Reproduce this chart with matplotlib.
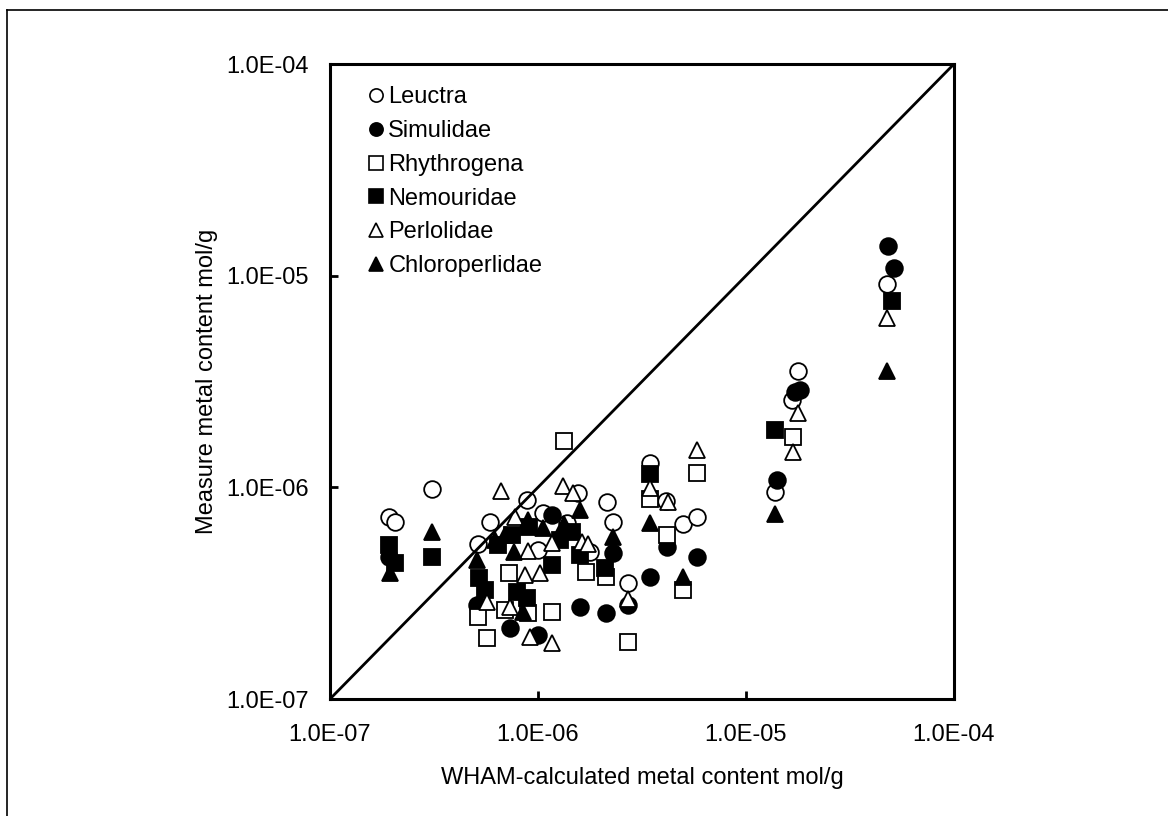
import matplotlib
matplotlib.use("Agg")
import matplotlib.pyplot as plt
from matplotlib.lines import Line2D
from matplotlib.ticker import FuncFormatter, FixedLocator, NullLocator

plt.rcParams['font.family'] = ['Liberation Sans', 'DejaVu Sans']

# ---- data (WHAM-calculated x, measured y), mol/g ----
leuctra_x = [1.92e-7, 2.05e-7, 3.09e-7, 5.15e-7, 5.88e-7, 8.85e-7, 1.06e-6, 1.56e-6, 1.38e-6,
             2.15e-6, 2.30e-6, 2.71e-6, 3.45e-6, 4.12e-6, 4.97e-6, 5.80e-6, 1.00e-6, 1.38e-5,
             1.66e-5, 1.78e-5, 4.76e-5, 1.78e-6]
leuctra_y = [7.24e-7, 6.86e-7, 9.80e-7, 5.40e-7, 6.86e-7, 8.70e-7, 7.56e-7, 9.40e-7, 6.78e-7,
             8.53e-7, 6.86e-7, 3.53e-7, 1.30e-6, 8.60e-7, 6.70e-7, 7.24e-7, 5.06e-7, 9.50e-7,
             2.58e-6, 3.54e-6, 9.10e-6, 4.94e-7]

simulidae_x = [4.82e-5, 5.15e-5, 1.72e-5, 1.82e-5, 1.41e-5, 5.80e-6, 4.17e-6, 3.45e-6, 2.71e-6,
               2.12e-6, 1.59e-6, 1.00e-6, 7.33e-7, 1.17e-6, 2.30e-6, 1.92e-7, 5.09e-7]
simulidae_y = [1.38e-5, 1.09e-5, 2.82e-6, 2.88e-6, 1.08e-6, 4.69e-7, 5.23e-7, 3.77e-7, 2.78e-7,
               2.55e-7, 2.72e-7, 2.00e-7, 2.16e-7, 7.40e-7, 4.90e-7, 4.69e-7, 2.78e-7]

rhythrogena_x = [1.33e-6, 5.80e-6, 3.45e-6, 4.17e-6, 4.97e-6, 2.71e-6, 2.12e-6, 1.70e-6, 1.17e-6,
                 8.95e-7, 7.26e-7, 5.15e-7, 5.69e-7, 1.68e-5, 6.93e-7]
rhythrogena_y = [1.66e-6, 1.17e-6, 8.80e-7, 5.96e-7, 3.27e-7, 1.86e-7, 3.77e-7, 3.98e-7, 2.58e-7,
                 2.55e-7, 3.94e-7, 2.44e-7, 1.94e-7, 1.73e-6, 2.63e-7]

nemouridae_x = [1.92e-7, 2.05e-7, 3.09e-7, 1.38e-5, 5.03e-5, 3.45e-6, 2.10e-6, 1.59e-6, 1.17e-6,
                9.06e-7, 1.46e-6, 5.20e-7, 5.56e-7, 7.93e-7, 8.85e-7, 6.43e-7, 7.50e-7, 1.28e-6]
nemouridae_y = [5.33e-7, 4.38e-7, 4.69e-7, 1.87e-6, 7.59e-6, 1.16e-6, 4.16e-7, 4.79e-7, 4.29e-7,
                6.49e-7, 6.15e-7, 3.73e-7, 3.27e-7, 3.20e-7, 3.00e-7, 5.33e-7, 5.96e-7, 5.63e-7]

perlolidae_x = [6.64e-7, 1.32e-6, 1.47e-6, 5.80e-6, 4.22e-6, 3.45e-6, 2.71e-6, 1.78e-5, 1.68e-5,
                4.76e-5, 1.17e-6, 9.16e-7, 5.69e-7, 7.33e-7, 7.75e-7, 1.17e-6, 8.95e-7, 1.02e-6,
                8.65e-7, 1.63e-6, 1.74e-6]
perlolidae_y = [9.60e-7, 1.01e-6, 9.40e-7, 1.50e-6, 8.53e-7, 9.90e-7, 2.96e-7, 2.24e-6, 1.47e-6,
                6.30e-6, 1.84e-7, 1.96e-7, 2.87e-7, 2.72e-7, 7.24e-7, 5.46e-7, 5.00e-7, 3.94e-7,
                3.85e-7, 5.52e-7, 5.40e-7]

chloroperlidae_x = [4.76e-5, 1.38e-5, 3.45e-6, 4.97e-6, 2.30e-6, 1.59e-6, 1.33e-6, 8.95e-7, 1.94e-7,
                    3.09e-7, 5.09e-7, 8.48e-7, 6.93e-7, 7.67e-7, 6.20e-7, 1.06e-6]
chloroperlidae_y = [3.54e-6, 7.48e-7, 6.78e-7, 3.77e-7, 5.82e-7, 7.82e-7, 6.70e-7, 7.00e-7, 3.94e-7,
                    6.15e-7, 4.54e-7, 2.58e-7, 5.96e-7, 4.94e-7, 5.63e-7, 6.42e-7]

series_names = ["Leuctra", "Simulidae", "Rhythrogena", "Nemouridae", "Perlolidae", "Chloroperlidae"]
tick_values = [1e-7, 1e-6, 1e-5, 1e-4]
x_label = "WHAM-calculated metal content mol/g"
y_label = "Measure metal content mol/g"

series = [
    (leuctra_x, leuctra_y, 'o', 'white'),
    (simulidae_x, simulidae_y, 'o', 'black'),
    (rhythrogena_x, rhythrogena_y, 's', 'white'),
    (nemouridae_x, nemouridae_y, 's', 'black'),
    (perlolidae_x, perlolidae_y, '^', 'white'),
    (chloroperlidae_x, chloroperlidae_y, '^', 'black'),
]

FS = 17
fig = plt.figure(figsize=(11.68, 8.16), dpi=100)
ax = fig.add_axes([330/1168, 1 - 699/816, 624/1168, 635/816])

for (xs, ys, m, fc), name in zip(series, series_names):
    ax.plot(xs, ys, linestyle='none', marker=m, markersize=12, markerfacecolor=fc,
            markeredgecolor='black', markeredgewidth=1.3, label=name, zorder=3)

ax.plot([tick_values[0], tick_values[-1]], [tick_values[0], tick_values[-1]],
        color='black', lw=2.0, zorder=4)

ax.set_xscale('log')
ax.set_yscale('log')
ax.set_xlim(tick_values[0], tick_values[-1])
ax.set_ylim(tick_values[0], tick_values[-1])
fmt = FuncFormatter(lambda v, p: f"{v:.1E}")
for axis in (ax.xaxis, ax.yaxis):
    axis.set_major_locator(FixedLocator(tick_values))
    axis.set_minor_locator(NullLocator())
    axis.set_major_formatter(fmt)
ax.tick_params(axis='both', which='major', direction='in', length=6, width=2,
               labelsize=FS, color='black')
ax.tick_params(axis='x', pad=18)
ax.tick_params(axis='y', pad=15)
for s in ax.spines.values():
    s.set_linewidth(2.2)

ax.set_xlabel(x_label, fontsize=FS, labelpad=15)
ax.set_ylabel(y_label, fontsize=FS, labelpad=6)

handles = []
for (xs, ys, m, fc), name in zip(series, series_names):
    handles.append(Line2D([], [], linestyle='none', marker=m, markersize=9.5,
                          markerfacecolor=fc, markeredgecolor='black',
                          markeredgewidth=1.2, label=name))
ax.legend(handles=handles, loc='upper left', bbox_to_anchor=(0.034, 0.991),
          frameon=False, fontsize=FS, handlelength=0.7, handletextpad=0.17,
          labelspacing=0.50, borderpad=0.2)

# figure border (left and top edges)
fig.add_artist(Line2D([7/1168, 7/1168], [0, 1 - 9.5/816], transform=fig.transFigure,
                      color='black', lw=1.2))
fig.add_artist(Line2D([7/1168, 1], [1 - 9.5/816, 1 - 9.5/816], transform=fig.transFigure,
                      color='black', lw=1.2))

fig.savefig("out.png", dpi=100)
